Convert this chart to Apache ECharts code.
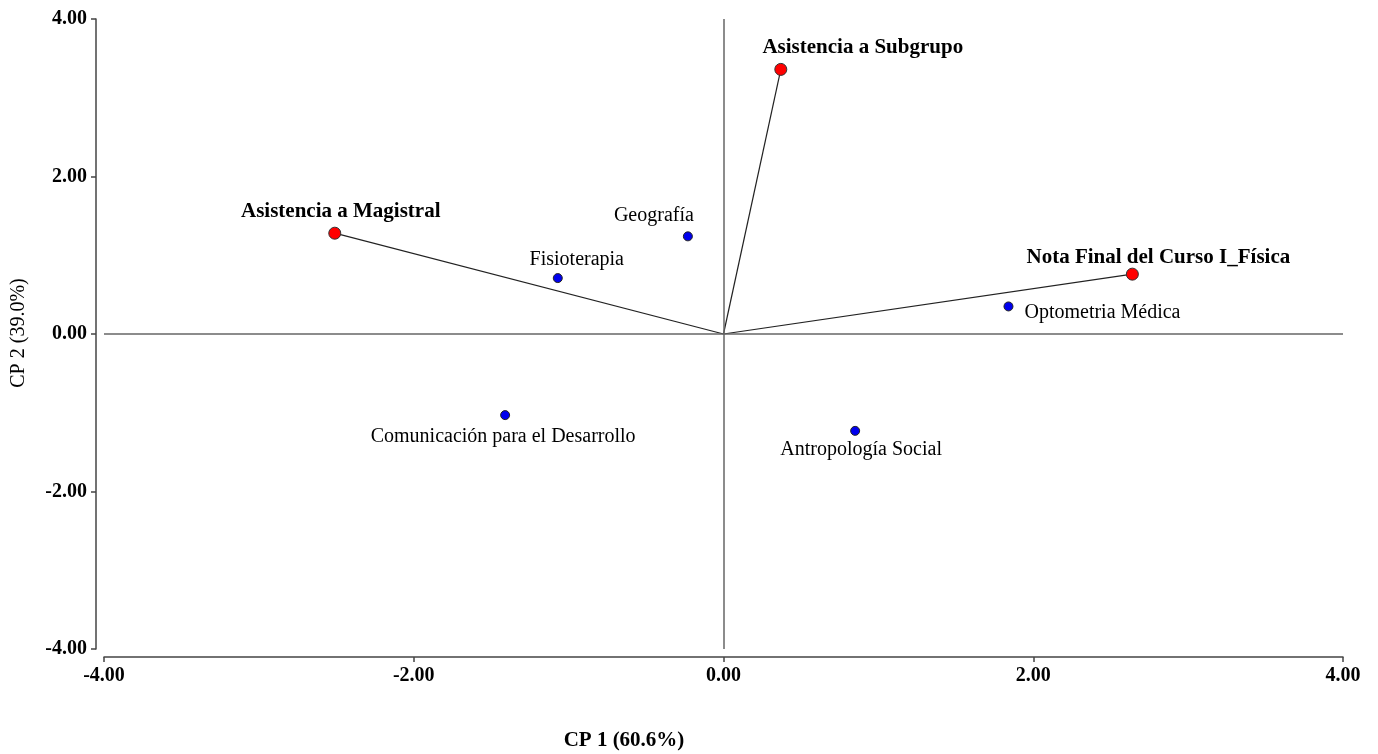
<!DOCTYPE html>
<html>
<head>
<meta charset="utf-8">
<script src="https://cdn.jsdelivr.net/npm/echarts@6/dist/echarts.min.js"></script>
<style>
  html, body { margin: 0; padding: 0; background: #fff; }
  #chart { width: 1378px; height: 754px; }
</style>
</head>
<body>
<div id="chart"></div>
<script>
// variables (vectors from the origin)
const varNames = ['Asistencia a Magistral', 'Asistencia a Subgrupo', 'Nota Final del Curso I_Física'];
const varX = [-2.51, 0.37, 2.64];
const varY = [1.28, 3.36, 0.76];

// programmes (observations)
const obsNames = ['Geografía', 'Fisioterapia', 'Optometria Médica', 'Comunicación para el Desarrollo', 'Antropología Social'];
const obsX = [-0.23, -1.07, 1.84, -1.41, 0.85];
const obsY = [1.24, 0.71, 0.35, -1.03, -1.23];

const tickValues = [-4, -2, 0, 2, 4];

// label placement, pixels relative to the point
const labelOffsets = {
  'Asistencia a Magistral': [6, -22],
  'Asistencia a Subgrupo': [82, -22],
  'Nota Final del Curso I_Física': [26, -17],
  'Geografía': [-34, -21],
  'Fisioterapia': [19, -18],
  'Optometria Médica': [94, 6],
  'Comunicación para el Desarrollo': [-2, 22],
  'Antropología Social': [6, 19]
};

const serif = '"Liberation Serif", "Times New Roman", serif';

const chart = echarts.init(document.getElementById('chart'));

const axisCommon = {
  type: 'value',
  min: tickValues[0],
  max: tickValues[tickValues.length - 1],
  interval: 2,
  offset: 8,
  axisLine: { show: true, onZero: false, lineStyle: { color: '#444', width: 1.5 } },
  axisTick: { show: true, length: 5, lineStyle: { color: '#444', width: 1.5 } },
  splitLine: { show: false },
  axisLabel: {
    color: '#000',
    fontFamily: serif,
    fontWeight: 'bold',
    fontSize: 20,
    margin: 9,
    formatter: v => v.toFixed(2)
  }
};

const vectorSeries = varNames.map((name, i) => ({
  name: name,
  type: 'line',
  silent: true,
  symbol: 'none',
  lineStyle: { color: '#222', width: 1.2 },
  data: [[0, 0], [varX[i], varY[i]]],
  z: 2
}));

const makeLabel = (name, bold) => ({
  show: true,
  position: 'inside',
  offset: labelOffsets[name],
  formatter: name,
  color: '#000',
  fontFamily: serif,
  fontSize: bold ? 21 : 20,
  fontWeight: bold ? 'bold' : 'normal'
});

const option = {
  animation: false,
  backgroundColor: '#fff',
  grid: { left: 104, right: 35, top: 19, bottom: 105 },
  xAxis: Object.assign({}, axisCommon),
  yAxis: Object.assign({}, axisCommon),
  graphic: [
    {
      type: 'text',
      x: 624,
      y: 741,
      style: { text: 'CP 1 (60.6%)', font: 'bold 21px ' + serif, fill: '#000', align: 'center', verticalAlign: 'middle' }
    },
    {
      type: 'text',
      x: 19,
      y: 333,
      rotation: Math.PI / 2,
      style: { text: 'CP 2 (39.0%)', font: '20px ' + serif, fill: '#000', align: 'center', verticalAlign: 'middle' }
    }
  ],
  series: [
    {
      name: 'zero',
      type: 'line',
      data: [],
      markLine: {
        silent: true,
        symbol: 'none',
        label: { show: false },
        lineStyle: { color: '#666', width: 1.5, type: 'solid' },
        data: [{ xAxis: 0 }, { yAxis: 0 }]
      },
      z: 1
    },
    ...vectorSeries,
    {
      name: 'variables',
      type: 'scatter',
      symbolSize: 12,
      itemStyle: { color: '#ff0000', borderColor: '#333', borderWidth: 1, opacity: 1 },
      data: varNames.map((name, i) => ({ name: name, value: [varX[i], varY[i]], label: makeLabel(name, true) })),
      z: 4
    },
    {
      name: 'programas',
      type: 'scatter',
      symbolSize: 9,
      itemStyle: { color: '#0000ee', borderColor: '#222', borderWidth: 1, opacity: 1 },
      data: obsNames.map((name, i) => ({ name: name, value: [obsX[i], obsY[i]], label: makeLabel(name, false) })),
      z: 4
    }
  ]
};

chart.setOption(option);
</script>
</body>
</html>
